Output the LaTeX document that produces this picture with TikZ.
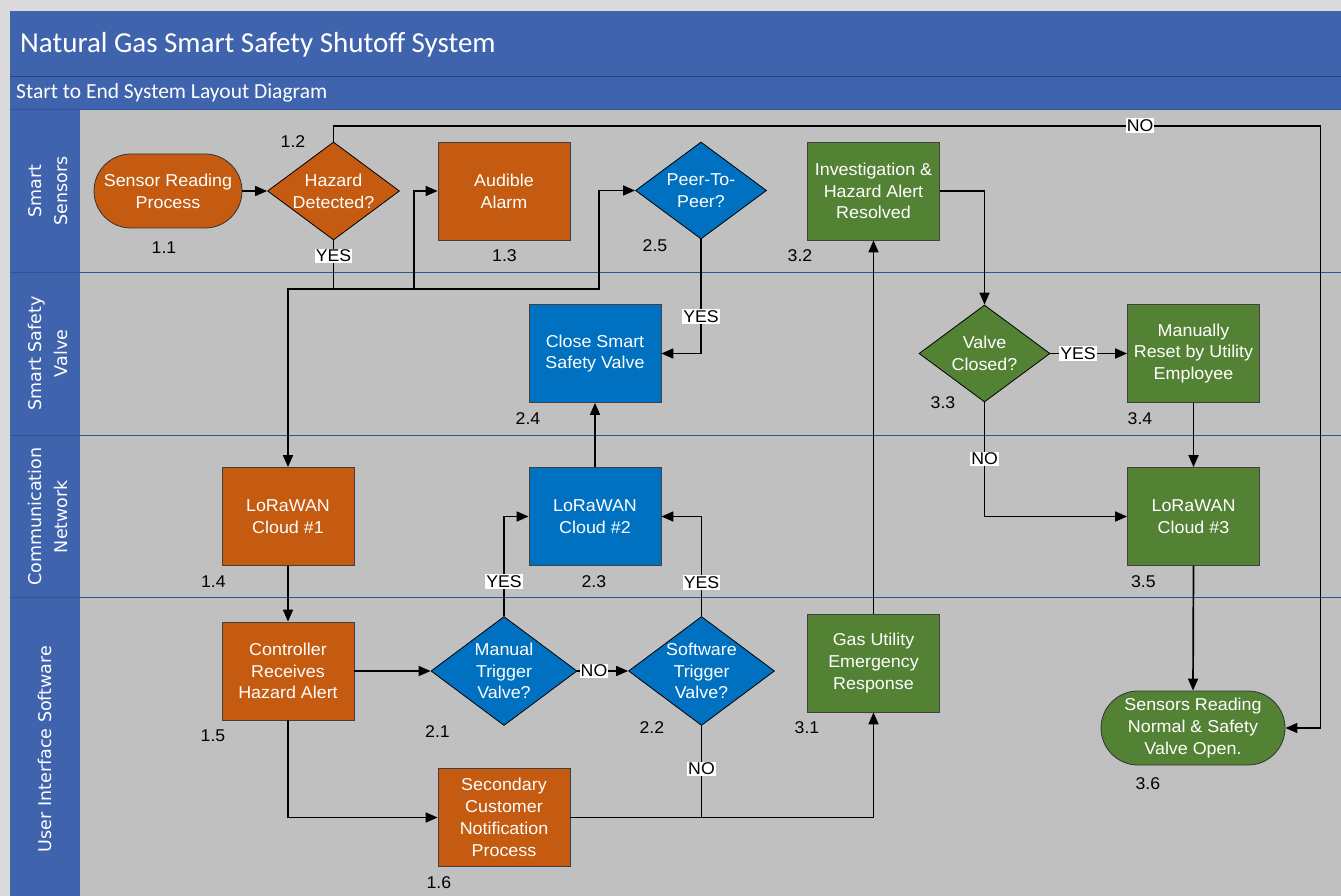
\documentclass[tikz,border=0pt]{standalone}
\usepackage{fontspec}
\setmainfont{Liberation Sans}
\newfontfamily\nodefam[FakeStretch=1.04]{Liberation Sans}
\newfontfamily\titlefam{Carlito}
\newfontfamily\lanefam{DejaVu Sans}
\usetikzlibrary{shapes.geometric,arrows.meta}
\definecolor{corange}{HTML}{C55A11}
\definecolor{cblue}{HTML}{0070C0}
\definecolor{cgreen}{HTML}{548235}
\definecolor{chead}{HTML}{3F64AD}
\definecolor{cgray}{HTML}{C0C0C0}
\definecolor{cmargin}{HTML}{DADADA}
\definecolor{csep}{HTML}{2F5597}
\tikzset{
  nodetext/.style={text=white, align=center, font=\nodefam\fontsize{17.2}{21.8}\selectfont},
  boxnode/.style={rectangle, draw=black!75, line width=0.8pt, minimum width=132pt, minimum height=98pt, inner sep=0pt, nodetext},
  dianode/.style={diamond, draw=black, line width=0.8pt, minimum width=132pt, minimum height=98pt, inner sep=0pt},
  termnode/.style={rectangle, rounded corners=37pt, draw=black!80, line width=0.8pt, minimum width=148pt, minimum height=74pt, inner sep=0pt, nodetext},
  numlabel/.style={text=black, inner sep=0pt, font=\nodefam\fontsize{17}{20}\selectfont},
  edgelabel/.style={fill=white, text=black, inner sep=1.2pt, font=\nodefam\fontsize{17}{20}\selectfont},
  lanelabel/.style={rotate=90, text=white, align=center, font=\lanefam\fontsize{17.5}{26}\selectfont},
  flow/.style={line width=1.7pt, draw=black, -{Triangle[length=12pt,width=10pt]}},
  plain/.style={line width=1.7pt, draw=black},
}
\begin{document}
\begin{tikzpicture}[x=1pt,y=-1pt]
\useasboundingbox (0,0) rectangle (1341,896);
% background
\fill[cmargin] (0,0) rectangle (1341,896);
\fill[chead] (10,11) rectangle (1341,896);
\fill[cgray] (79.5,109.5) rectangle (1341,896);
\draw[csep!80!black, line width=1pt] (10,76.5) -- (1341,76.5);
\draw[csep, line width=1pt] (10,109.5) -- (1341,109.5);
\foreach \yy in {272.3,435,597.7} {\draw[csep, line width=1pt] (10,\yy) -- (1341,\yy);}
\node[anchor=west, inner sep=0pt, text=white, font=\titlefam\fontsize{29}{34}\selectfont] (title) at (20,44.5) {Natural Gas Smart Safety Shutoff System};
\node[anchor=west, inner sep=0pt, text=white, font=\titlefam\fontsize{21.5}{26}\selectfont] (subtitle) at (16,93) {Start to End System Layout Diagram};
% lane labels
\node[lanelabel] (lane1) at (48,191) {Smart\\Sensors};
\node[lanelabel] (lane2) at (48,353.5) {Smart Safety\\Valve};
\node[lanelabel] (lane3) at (48,516.5) {Communication\\Network};
\node[lanelabel] (lane4) at (45,749) {User Interface Software};

% nodes
\node[termnode, fill=corange] (n11) at (168,191) {Sensor Reading\\Process};
\node[dianode, fill=corange] (n12) at (333.5,191) {};
\node[nodetext] at (n12) {Hazard\\Detected?};
\node[boxnode, fill=corange] (n13) at (504,191) {Audible\\Alarm};
\node[dianode, fill=cblue, minimum width=131pt, minimum height=97pt] (n25) at (701,190.5) {};
\node[nodetext] at (n25) {Peer-To-\\Peer?};
\node[boxnode, fill=cgreen] (n32) at (873.5,191) {Investigation \&\\Hazard Alert\\Resolved};
\node[boxnode, fill=cblue] (n24) at (595,353.5) {Close Smart\\Safety Valve};
\node[dianode, fill=cgreen, minimum width=131pt, minimum height=97pt] (n33) at (984.5,353.5) {};
\node[nodetext] at (n33) {Valve\\Closed?};
\node[boxnode, fill=cgreen] (n34) at (1193.5,353.5) {Manually\\Reset by Utility\\Employee};
\node[boxnode, fill=corange] (n14) at (288,516.5) {LoRaWAN\\Cloud \#1};
\node[boxnode, fill=cblue] (n23) at (595,516.5) {LoRaWAN\\Cloud \#2};
\node[boxnode, fill=cgreen] (n35) at (1193.5,516.5) {LoRaWAN\\Cloud \#3};
\node[boxnode, fill=corange] (n15) at (288,671) {Controller\\Receives\\Hazard Alert};
\node[dianode, fill=cblue, minimum width=146pt, minimum height=109pt] (n21) at (504,671) {};
\node[nodetext] at (n21) {Manual\\Trigger\\Valve?};
\node[dianode, fill=cblue, minimum width=146pt, minimum height=109pt] (n22) at (701.5,671) {};
\node[nodetext] at (n22) {Software\\Trigger\\Valve?};
\node[boxnode, fill=corange] (n16) at (504,817.5) {Secondary\\Customer\\Notification\\Process};
\node[boxnode, fill=cgreen] (n31) at (873.5,663) {Gas Utility\\Emergency\\Response};
\node[termnode, fill=cgreen, minimum width=184pt] (n36) at (1193,728) {Sensors Reading\\Normal \& Safety\\Valve Open.};

% connector bend points
\coordinate (rt) at (1320.5,125.7);
\coordinate (j1) at (333.5,289);
\coordinate (j2) at (414,289);
\coordinate (j3) at (599,289);
\coordinate (j4) at (701.5,817.5);

% connectors
\draw[flow] (n11.east) -- (n12.west);
\draw[flow] (n12.north) |- (rt) |- (n36.east);
\draw[plain] (n12.south) -- (j1);
\draw[flow] (j1) -| (n14.north);
\draw[flow] (j1) -- (j2) |- (n13.west);
\draw[flow] (j2) -- (j3) |- (n25.west);
\draw[flow] (n25.south) |- (n24.east);
\draw[flow] (n23.north) -- (n24.south);
\draw[flow] (n14.south) -- (n15.north);
\draw[flow] (n15.east) -- (n21.west);
\draw[flow] (n21.east) -- (n22.west);
\draw[flow] (n21.north) |- (n23.west);
\draw[flow] (n22.north) |- (n23.east);
\draw[flow] (n15.south) |- (n16.west);
\draw[flow] (n16.east) -| (n31.south);
\draw[plain] (n22.south) -- (j4);
\draw[flow] (n31.north) -- (n32.south);
\draw[flow] (n32.east) -| (n33.north);
\draw[flow] (n33.east) -- (n34.west);
\draw[flow] (n33.south) |- (n35.west);
\draw[flow] (n34.south) -- (n35.north);
\draw[flow] (n35.south) -- (n36.north);

% edge labels
\node[edgelabel] (lNO1) at (1140,125.7) {NO};
\node[edgelabel] (lYES1) at (333.5,256) {YES};
\node[edgelabel] (lYES2) at (701,316.7) {YES};
\node[edgelabel] (lYES3) at (504,581.7) {YES};
\node[edgelabel] (lYES4) at (701.5,582.7) {YES};
\node[edgelabel] (lNO2) at (594,671) {NO};
\node[edgelabel] (lNO3) at (701.5,769) {NO};
\node[edgelabel] (lNO4) at (984.5,459) {NO};
\node[edgelabel] (lYES5) at (1078,353.7) {YES};

% step numbers
\node[numlabel] (s11) at (164,248) {1.1};
\node[numlabel] (s12) at (293,141.7) {1.2};
\node[numlabel] (s13) at (504.5,256) {1.3};
\node[numlabel] (s25) at (655,246) {2.5};
\node[numlabel] (s32) at (800,256) {3.2};
\node[numlabel] (s24) at (528,419) {2.4};
\node[numlabel] (s14) at (213.4,581.7) {1.4};
\node[numlabel] (s23) at (593.8,581.7) {2.3};
\node[numlabel] (s33) at (943,402.7) {3.3};
\node[numlabel] (s34) at (1140,419) {3.4};
\node[numlabel] (s35) at (1143.4,581.7) {3.5};
\node[numlabel] (s15) at (213,735.7) {1.5};
\node[numlabel] (s21) at (437.5,731.7) {2.1};
\node[numlabel] (s22) at (651.8,727.3) {2.2};
\node[numlabel] (s16) at (438.8,882.7) {1.6};
\node[numlabel] (s31) at (807,728) {3.1};
\node[numlabel] (s36) at (1147.8,784) {3.6};
\end{tikzpicture}
\end{document}
